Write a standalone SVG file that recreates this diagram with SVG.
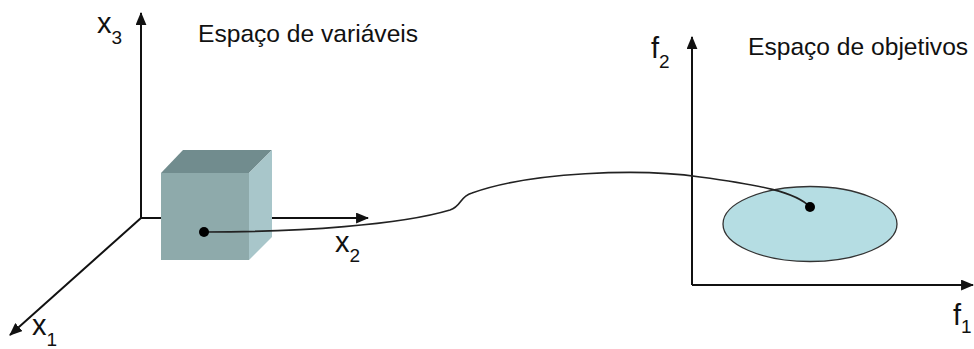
<svg xmlns="http://www.w3.org/2000/svg" width="974" height="349" viewBox="0 0 974 349">
<style>
.ax{stroke:#111;stroke-width:2;fill:none}
.t{font-family:"Liberation Sans",Arial,sans-serif;fill:#111}
.lab{font-size:29px}
.sub{font-size:19px}
.title{font-size:24.6px}
.dot{fill:#000}
</style>
<defs>
<marker id="ah" viewBox="0 0 12 10" refX="11" refY="5" markerWidth="13" markerHeight="11" markerUnits="userSpaceOnUse" orient="auto">
<path d="M0,0 L12,5 L0,10 Z" fill="#111"/>
</marker>
</defs>
<rect width="974" height="349" fill="#fff"/>
<g id="variable-space">
<line class="ax" x1="141" y1="218" x2="141" y2="13" marker-end="url(#ah)"/>
<line class="ax" x1="141" y1="218" x2="368" y2="218" marker-end="url(#ah)"/>
<line class="ax" x1="141" y1="218" x2="10" y2="335" marker-end="url(#ah)"/>
<text class="t lab" x="97" y="33">x<tspan class="sub" dy="11">3</tspan></text>
<text class="t lab" x="335" y="252">x<tspan class="sub" dy="10">2</tspan></text>
<text class="t lab" x="32" y="335">x<tspan class="sub" dy="11">1</tspan></text>
<text class="t title" x="198" y="42">Espaço de variáveis</text>
</g>
<g id="cube">
<polygon points="161,173 183,150 272,150 249,173" fill="#718c8e"/>
<polygon points="249,173 272,150 272,237 249,260" fill="#a8c6ca"/>
<rect x="161" y="173" width="88" height="87" fill="#8eaaab"/>
</g>
<g id="objective-space">
<line class="ax" x1="692" y1="285" x2="692" y2="37" marker-end="url(#ah)"/>
<line class="ax" x1="692" y1="285" x2="973" y2="285" marker-end="url(#ah)"/>
<text class="t lab" x="651" y="58">f<tspan class="sub" dy="10">2</tspan></text>
<text class="t lab" x="953" y="325">f<tspan class="sub" dy="8">1</tspan></text>
<text class="t title" x="748" y="55">Espaço de objetivos</text>
</g>
<g id="region">
<ellipse cx="810" cy="224" rx="87" ry="37.5" fill="#b5dde3" stroke="#333" stroke-width="1.3"/>
</g>
<g id="connectors">
<path d="M204,232 C300,232 400,225 450,210 C462,206 459,197 472,193 C530,172 640,168 700,177 C760,185 796,192 810,207" fill="none" stroke="#222" stroke-width="1.6"/>
</g>
<g id="points">
<circle class="dot" cx="204" cy="232" r="5"/>
<circle class="dot" cx="810" cy="207" r="5"/>
</g>
</svg>
